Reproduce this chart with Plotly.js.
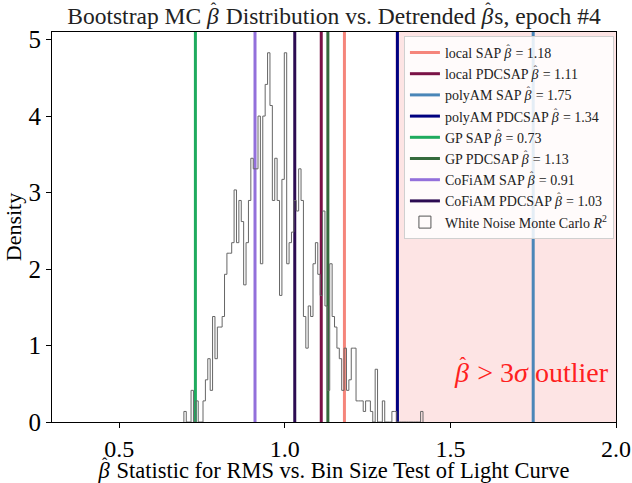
<!DOCTYPE html>
<html>
<head>
<meta charset="utf-8">
<script src="https://cdn.plot.ly/plotly-3.0.1.min.js"></script>
<style>html,body{margin:0;padding:0;background:#fff;}#chart{width:632px;height:483px;}</style>
</head>
<body>
<div id="chart"></div>
<script>
// Histogram of bootstrap Monte Carlo beta-hat values (counts per bin, 100 bins)
const histStart = 0.6952;
const histBinWidth = 0.00722;
const histCounts = [
  1,0,0,3,0,2,0,0,2,4,
  6,3,10,6,9,9,10,14,16,16,
  17,22,17,21,19,13,17,21,25,24,
  24,29,15,29,32,35,30,21,25,21,
  12,23,35,15,17,18,21,20,24,21,
  10,7,11,10,15,17,14,12,20,11,
  3,15,10,9,7,6,3,7,3,4,
  7,7,2,2,2,1,2,2,1,0,
  5,0,0,2,0,0,0,1,1,0,
  0,0,0,0,0,0,0,0,0,1
];

// Detrended beta-hat values
const methodNames = ['local SAP','local PDCSAP','polyAM SAP','polyAM PDCSAP','GP SAP','GP PDCSAP','CoFiAM SAP','CoFiAM PDCSAP'];
const methodBetas = [1.18, 1.11, 1.75, 1.34, 0.73, 1.13, 0.91, 1.03];
const methodColors = ['#F5857B','#7A1246','#4A86B8','#000080','#1FAB5E','#356A3C','#9370DB','#2C0B52'];

const outlierThreshold = 1.333;
const xRange = [0.297, 2.0];
const yRange = [0, 5.1];
const xTicks = [0.5, 1.0, 1.5, 2.0];
const xTickLabels = ['0.5', '1.0', '1.5', '2.0'];
const yTicks = [0, 1, 2, 3, 4, 5];

const FONT = 'Liberation Serif, DejaVu Serif, serif';
// beta-hat: italic beta with a raised circumflex pulled back over it
const BH = '<i><span style="letter-spacing:-0.34em">β</span></i><sup><span style="letter-spacing:0.22em">ˆ</span></sup>';

const total = histCounts.reduce((a, b) => a + b, 0);
const density = histCounts.map(c => c / (total * histBinWidth));
const hx = [histStart], hy = [0];
for (let i = 0; i < histCounts.length; i++) {
  hx.push(histStart + i * histBinWidth);
  hy.push(density[i]);
}
hx.push(histStart + histCounts.length * histBinWidth);
hy.push(0);

const traces = [];
methodNames.forEach((n, i) => {
  traces.push({
    type: 'scatter', mode: 'lines',
    x: [methodBetas[i], methodBetas[i]], y: yRange,
    line: {color: methodColors[i], width: 3},
    name: n + ' ' + BH + ' = ' + methodBetas[i].toFixed(2),
    hoverinfo: 'skip'
  });
});
traces.push({
  type: 'scatter', mode: 'lines', x: hx, y: hy,
  line: {color: '#666', width: 1, shape: 'hv'},
  showlegend: false, hoverinfo: 'skip'
});
traces.push({
  type: 'bar', x: [0], y: [0], width: [histBinWidth],
  marker: {color: 'rgba(255,255,255,0)', line: {color: '#555', width: 1}},
  name: 'White Noise Monte Carlo <i>R</i><sup>2</sup>',
  hoverinfo: 'skip'
});

const layout = {
  width: 632, height: 483,
  margin: {l: 52, r: 16, t: 32, b: 61},
  paper_bgcolor: '#fff', plot_bgcolor: '#fff',
  font: {family: FONT, color: '#000'},
  title: {
    text: 'Bootstrap MC ' + BH + ' Distribution vs. Detrended ' + BH + 's, epoch #4',
    font: {family: FONT, size: 23.5, color: '#222'},
    x: 0.5, xref: 'paper', y: 0.968, yref: 'container', yanchor: 'middle'
  },
  xaxis: {
    range: xRange, tickvals: xTicks, ticktext: xTickLabels,
    ticks: 'outside', ticklen: 5, tickcolor: '#000',
    showline: true, linecolor: '#000', linewidth: 1, mirror: true,
    showgrid: false, zeroline: false,
    tickfont: {family: FONT, size: 24},
    title: {text: BH + ' Statistic for RMS vs. Bin Size Test of Light Curve', font: {family: FONT, size: 22.5}, standoff: 12}
  },
  yaxis: {
    range: yRange, tickvals: yTicks,
    ticks: 'outside', ticklen: 5, tickcolor: '#000',
    showline: true, linecolor: '#000', linewidth: 1, mirror: true,
    showgrid: false, zeroline: false,
    tickfont: {family: FONT, size: 25},
    title: {text: 'Density', font: {family: FONT, size: 22}, standoff: 0}
  },
  shapes: [{
    type: 'rect', xref: 'x', yref: 'paper', x0: outlierThreshold, x1: xRange[1], y0: 0, y1: 1,
    fillcolor: '#FDE4E4', line: {width: 0}, layer: 'below'
  }],
  annotations: [{
    xref: 'x', yref: 'y', x: 1.985, y: 0.68, xanchor: 'right', yanchor: 'middle',
    text: BH + ' > 3<i>σ</i> outlier', showarrow: false,
    font: {family: FONT, size: 28, color: '#FF2020'}
  }],
  legend: {
    x: 0.624, y: 0.99, xanchor: 'left', yanchor: 'top',
    bgcolor: 'rgba(255,255,255,0.85)', bordercolor: '#d0d0d0', borderwidth: 1,
    font: {family: FONT, size: 14, color: '#222'},
    itemwidth: 30, tracegroupgap: 0
  },
  bargap: 0, showlegend: true
};

Plotly.newPlot('chart', traces, layout, {displayModeBar: false, staticPlot: true});
</script>
</body>
</html>
